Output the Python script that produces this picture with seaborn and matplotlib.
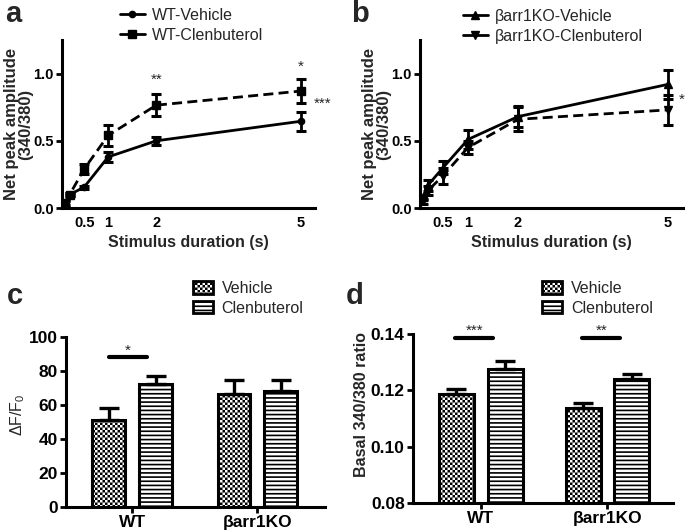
"""Calcium transient panels: stimulus-response curves and bar summaries."""

import matplotlib

matplotlib.use("Agg")
import matplotlib.hatch as mhatch
import matplotlib.pyplot as plt
import pandas as pd
import seaborn as sns
from matplotlib.lines import Line2D
from matplotlib.patches import Patch
from matplotlib.path import Path

# --- data -----------------------------------------------------------------
durations = [0.1, 0.2, 0.5, 1, 2, 5]
duration_ticks = [0.5, 1, 2, 5]

wt_vehicle = [0.03, 0.10, 0.155, 0.38, 0.50, 0.645]
wt_vehicle_sem = [0.02, 0.01, 0.01, 0.04, 0.03, 0.07]
wt_clen = [0.04, 0.10, 0.29, 0.54, 0.765, 0.87]
wt_clen_sem = [0.02, 0.01, 0.04, 0.08, 0.08, 0.09]

ko_vehicle = [0.08, 0.17, 0.30, 0.51, 0.68, 0.92]
ko_vehicle_sem = [0.02, 0.04, 0.05, 0.07, 0.08, 0.11]
ko_clen = [0.05, 0.13, 0.24, 0.45, 0.66, 0.73]
ko_clen_sem = [0.02, 0.03, 0.06, 0.05, 0.09, 0.11]

genotypes = ["WT", "βarr1KO"]
treatments = ["Vehicle", "Clenbuterol"]

dff_vehicle = [51, 66.5]
dff_vehicle_sem = [7.5, 8.0]
dff_clen = [72.5, 68.5]
dff_clen_sem = [4.5, 6.3]

basal_vehicle = [0.1188, 0.1137]
basal_vehicle_sem = [0.0017, 0.0017]
basal_clen = [0.1277, 0.1242]
basal_clen_sem = [0.0028, 0.0017]

W, H = 685, 532
BOLD = "bold"


class CheckerHatch(mhatch.HatchPatternBase):
    """Filled checkerboard hatch, drawn for the 'o' character."""

    filled = True

    def __init__(self, hatch, density):
        n = hatch.count("o") * 10
        self.num_cells = n + n % 2
        self.num_vertices = self.num_cells ** 2 // 2 * 5

    def set_vertices_and_codes(self, vertices, codes):
        n = self.num_cells
        step = 1.0 / n
        inset = plt.rcParams["hatch.linewidth"] / 72 / 2
        square = [Path.MOVETO, Path.LINETO, Path.LINETO, Path.LINETO, Path.CLOSEPOLY]
        k = 0
        for i in range(n):
            for j in range(n):
                if (i + j) % 2:
                    continue
                x0, y0 = i * step + inset, j * step + inset
                x1, y1 = (i + 1) * step - inset, (j + 1) * step - inset
                vertices[k:k + 5] = [(x0, y0), (x1, y0), (x1, y1), (x0, y1), (x0, y0)]
                codes[k:k + 5] = square
                k += 5


mhatch._hatch_types = [t for t in mhatch._hatch_types if t is not mhatch.SmallCircles]
mhatch._hatch_types.append(CheckerHatch)

HATCHES = {"Vehicle": "oooo", "Clenbuterol": "----"}


def box(left, top, right, bottom):
    """Axes rectangle from pixel edges of the 685x532 canvas."""
    return [left / W, 1 - bottom / H, (right - left) / W, (bottom - top) / H]


def style_axes(ax):
    sns.despine(ax=ax)
    for side in ("left", "bottom"):
        ax.spines[side].set_linewidth(2.2)
    ax.tick_params(axis="y", length=4, width=2, labelsize=10.5, pad=2)
    for lab in ax.get_yticklabels():
        lab.set_fontweight(BOLD)


def draw_series(ax, y, sem, marker, ms, dashed):
    ls = (0, (3.6, 1.9)) if dashed else "-"
    sns.lineplot(x=durations, y=y, ax=ax, color="black", linewidth=2.0,
                 linestyle=ls, marker=marker, markersize=ms,
                 markeredgecolor="black", markeredgewidth=1)
    line = ax.lines[-1]
    ax.errorbar(durations, y, yerr=sem, fmt="none", ecolor="black",
                elinewidth=2.0, capsize=3.6, capthick=2.2, zorder=3)
    return line


def curve_panel(ax, series, labels, legend_xy):
    handles = []
    for (y, sem, marker, ms, dashed), label in zip(series, labels):
        draw_series(ax, y, sem, marker, ms, dashed)
        handles.append(Line2D([], [], color="black", lw=2.0, marker=marker,
                              markersize=ms, label=label))
    ax.set_xlim(0.04, 5.3)
    ax.set_ylim(0, 1.25)
    ax.set_xticks(duration_ticks)
    ax.set_xticklabels(["0.5", "1", "2", "5"], fontweight=BOLD, fontsize=10.5)
    ax.set_yticks([0.0, 0.5, 1.0])
    ax.set_yticklabels(["0.0", "0.5", "1.0"])
    style_axes(ax)
    ax.tick_params(axis="x", length=0, pad=6)
    ax.set_xlabel("Stimulus duration (s)", fontsize=11.5, fontweight=BOLD, labelpad=3)
    ax.set_ylabel("Net peak amplitude\n(340/380)", fontsize=12,
                  fontweight=BOLD, labelpad=0, linespacing=0.95)
    fig.legend(handles=handles, loc="upper left",
               bbox_to_anchor=(legend_xy[0] / W, 1 - legend_xy[1] / H),
               frameon=False, fontsize=11.5, handlelength=1.55,
               handletextpad=0.45, borderpad=0, borderaxespad=0,
               labelspacing=0.3)


def bar_panel(ax, vehicle, vehicle_sem, clen, clen_sem, width, gap, legend_xy):
    df = pd.DataFrame({
        "genotype": genotypes * 2,
        "treatment": ["Vehicle"] * 2 + ["Clenbuterol"] * 2,
        "value": list(vehicle) + list(clen),
    })
    sns.barplot(data=df, x="genotype", y="value", hue="treatment",
                order=genotypes, hue_order=treatments, width=width, gap=gap,
                palette={"Vehicle": "white", "Clenbuterol": "white"},
                edgecolor="black", linewidth=2.2, errorbar=None,
                legend=False, ax=ax)
    sems = {"Vehicle": vehicle_sem, "Clenbuterol": clen_sem}
    means = {"Vehicle": vehicle, "Clenbuterol": clen}
    for treatment, container in zip(treatments, ax.containers):
        xs = []
        for bar in container:
            bar.set_hatch(HATCHES[treatment])
            xs.append(bar.get_x() + bar.get_width() / 2)
        ax.errorbar(xs, means[treatment],
                    yerr=[[0] * len(xs), sems[treatment]], fmt="none",
                    ecolor="black", elinewidth=2.4, capsize=7.5,
                    capthick=2.4, zorder=1)
    style_axes(ax)
    ax.tick_params(axis="y", labelsize=12.5)
    ax.tick_params(axis="x", length=4, width=2, labelsize=12.5, pad=2)
    for lab in ax.get_xticklabels():
        lab.set_fontweight(BOLD)
    ax.set_xlabel("")
    handles = [Patch(facecolor="white", edgecolor="black", linewidth=2.0,
                     hatch=HATCHES[t], label=t) for t in treatments]
    fig.legend(handles=handles, loc="upper left",
               bbox_to_anchor=(legend_xy[0] / W, 1 - legend_xy[1] / H),
               frameon=False, fontsize=11.5, handlelength=1.25,
               handleheight=0.8, handletextpad=0.55, borderpad=0,
               borderaxespad=0, labelspacing=0.3)


def significance(ax, x0, x1, y, text, size=11):
    ax.plot([x0, x1], [y, y], color="black", lw=3, solid_capstyle="round")
    ax.text((x0 + x1) / 2, y, text, ha="center", va="bottom", fontsize=size)


sns.set_theme(style="ticks")
plt.rcParams["font.family"] = ["Liberation Sans", "DejaVu Sans"]
plt.rcParams["hatch.linewidth"] = 1.2
plt.rcParams["hatch.color"] = "black"
plt.rcParams["axes.edgecolor"] = "black"
plt.rcParams["xtick.color"] = "black"
plt.rcParams["ytick.color"] = "black"

fig = plt.figure(figsize=(W / 100, H / 100), dpi=100)

# --- a: WT curves ---------------------------------------------------------
ax_a = fig.add_axes(box(62, 40, 315, 208))
curve_panel(ax_a,
            [(wt_vehicle, wt_vehicle_sem, "o", 4.5, False),
             (wt_clen, wt_clen_sem, "s", 6, True)],
            ["WT-Vehicle", "WT-Clenbuterol"], (120, 8))
ax_a.text(2, 0.9, "**", ha="center", va="bottom", fontsize=11)
ax_a.text(5, 1.0, "*", ha="center", va="bottom", fontsize=11)
ax_a.text(5.45, 0.72, "***", ha="center", va="bottom", fontsize=11, clip_on=False)

# --- b: KO curves ---------------------------------------------------------
ax_b = fig.add_axes(box(420, 40, 683, 208))
curve_panel(ax_b,
            [(ko_vehicle, ko_vehicle_sem, "^", 6, False),
             (ko_clen, ko_clen_sem, "v", 6, True)],
            ["βarr1KO-Vehicle", "βarr1KO-Clenbuterol"], (463, 9))
ax_b.text(5.21, 0.75, "*", ha="left", va="bottom", fontsize=11, clip_on=False)

# --- c: delta F / F0 bars -------------------------------------------------
ax_c = fig.add_axes(box(66, 337, 325, 507))
bar_panel(ax_c, dff_vehicle, dff_vehicle_sem, dff_clen, dff_clen_sem,
          0.75, 0.3, (193, 281))
ax_c.set_xlim(-0.53, 1.54)
ax_c.set_ylim(0, 100)
ax_c.set_yticks(range(0, 101, 20))
for lab in ax_c.get_yticklabels():
    lab.set_fontweight(BOLD)
ax_c.set_ylabel("ΔF/F$_\\mathregular{0}$", fontsize=11.5, labelpad=1)
ax_c.yaxis.label.set_y(0.54)
significance(ax_c, -0.19, 0.12, 88, "*")

# --- d: basal ratio bars --------------------------------------------------
ax_d = fig.add_axes(box(413, 334, 673, 503))
bar_panel(ax_d, basal_vehicle, basal_vehicle_sem, basal_clen, basal_clen_sem,
          0.77, 0.28, (542, 281))
ax_d.set_xlim(-0.535, 1.517)
ax_d.set_ylim(0.08, 0.14)
ax_d.set_yticks([0.08, 0.10, 0.12, 0.14])
ax_d.set_yticklabels(["0.08", "0.10", "0.12", "0.14"])
for lab in ax_d.get_yticklabels():
    lab.set_fontweight(BOLD)
ax_d.set_ylabel("Basal 340/380 ratio", fontsize=11.5, fontweight=BOLD, labelpad=1)
ax_d.yaxis.label.set_y(0.58)
significance(ax_d, -0.20, 0.096, 0.1385, "***")
significance(ax_d, 0.80, 1.10, 0.1385, "**")

# --- panel letters --------------------------------------------------------
for letter, x, y in [("a", 5, 22), ("b", 351, 22), ("c", 7, 304), ("d", 346, 304)]:
    fig.text(x / W, 1 - y / H, letter, fontsize=21, fontweight=BOLD,
             ha="left", va="baseline")

fig.savefig("out.png", dpi=100)
